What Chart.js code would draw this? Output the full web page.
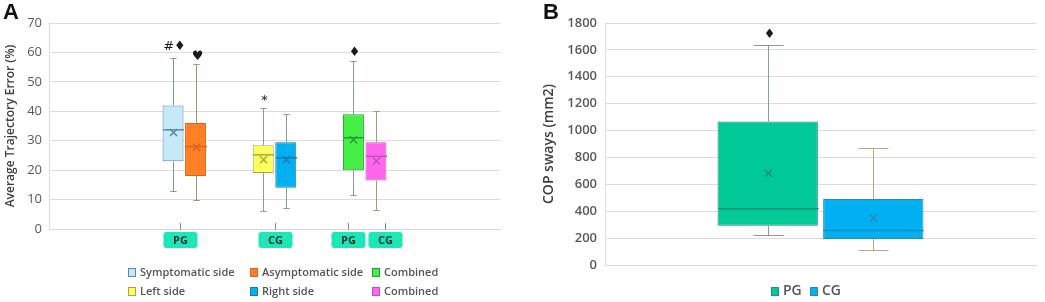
<!DOCTYPE html>
<html>
<head>
<meta charset="utf-8">
<script src="https://cdn.jsdelivr.net/npm/chart.js@4.4.0/dist/chart.umd.min.js"></script>
<style>
  body { margin: 0; width: 1045px; height: 302px; background: #fff; position: relative; overflow: hidden; font-family: "Open Sans", sans-serif; }
  .wrap { position: absolute; top: 0; height: 302px; }
  #wrapA { left: 0; width: 520px; }
  #wrapB { left: 520px; width: 525px; }
  .panel { position: absolute; font: bold 22px "Liberation Sans", Arial, sans-serif; color: #111; line-height: 22px; }
  .item { position: absolute; white-space: nowrap; color: #555; font-weight: 600; line-height: 14px; }
  .sw { display: inline-block; width: 6px; height: 7px; border: 1px solid; vertical-align: -1px; margin-right: 4px; }
</style>
</head>
<body>
<div class="wrap" id="wrapA">
  <canvas id="chartA" width="520" height="302" style="width:520px;height:302px"></canvas>
  <div class="panel" style="left:3px;top:1px">A</div>
  <div id="legendA"></div>
</div>
<div class="wrap" id="wrapB">
  <canvas id="chartB" width="525" height="302" style="width:525px;height:302px"></canvas>
  <div class="panel" style="left:23px;top:1px">B</div>
  <div id="legendB"></div>
</div>
<script>
// panel A: average trajectory error (%)
const slotsA = ['', 'G1', 'G2', 'G3', ''];
const seriesA = ['Symptomatic side', 'Asymptomatic side', 'Combined', 'Left side', 'Right side', 'Combined'];
const slotOfA = [1, 1, 3, 2, 2, 3];
const minA = [13, 10, 11.5, 6, 7, 6.5];
const q1A = [23, 18, 20, 19, 14, 16.5];
const medA = [33.7, 28, 31, 25.2, 24.2, 24.7];
const q3A = [42, 36, 39, 28.5, 29.5, 29.5];
const maxA = [58, 56, 57, 41, 39, 40];
const meanA = [32.8, 27.8, 30.3, 23.5, 23.5, 23.1];
const markA = ['#\u2666', '\u2665', '\u2666', '*', '', ''];
const markAtA = [62, 58.5, 60, 43.5, null, null];
const badgeLabels = ['PG', 'CG', 'PG', 'CG'];
const badgeAt = [0.95, 2.01, 2.81, 3.23];

// panel B: COP sways (mm2)
const slotsB = [''];
const seriesB = ['PG', 'CG'];
const minB = [220, 110];
const q1B = [292, 193];
const medB = [418, 257];
const q3B = [1067, 490];
const maxB = [1637, 870];
const meanB = [682, 350];
const markB = ['\u2666', ''];
const markAtB = [1712, null];

const fillA = ['#c6e9f9', '#ff7f27', '#46ef46', '#ffff5e', '#00b0f0', '#ff66ee'];
const lineA = ['#5a87aa', '#d8661a', '#2a9a3a', '#a6a64e', '#1a7aa8', '#c050b8'];
const whiskA = ['#7d97a8', '#b38f6e', '#8a9a9a', '#8a9aa8', '#8a98a0', '#a89a70'];
const fillB = ['#00c896', '#00b0f0'];
const lineB = ['#1f8f7f', '#2a88b8'];
const whiskB = ['#8a9aa0', '#b8a888'];

function makeSets(names, slots, slotOf, q1, q3, min, med, mean, max, mark, markAt, fill, line, whisk, cp, bp) {
  return names.map((name, k) => ({
    label: name,
    data: slots.map((_, j) => j === slotOf[k] ? [q1[k], q3[k]] : null),
    backgroundColor: fill[k],
    borderColor: line[k],
    borderWidth: 1,
    borderSkipped: false,
    skipNull: true,
    categoryPercentage: cp,
    barPercentage: bp,
    box: { min: min[k], med: med[k], mean: mean[k], max: max[k], mark: mark[k], markAt: markAt[k], whisk: whisk[k] }
  }));
}

const boxExtras = {
  id: 'boxExtras',
  afterDatasetsDraw(chart) {
    const ctx = chart.ctx;
    const y = chart.scales.y;
    chart.data.datasets.forEach((ds, i) => {
      const meta = chart.getDatasetMeta(i);
      meta.data.forEach((bar, j) => {
        if (ds.data[j] == null) return;
        const b = ds.box;
        const x = Math.round(bar.x) + 0.5, w = bar.width, cap = w * 0.3;
        const top = y.getPixelForValue(ds.data[j][1]);
        const bot = y.getPixelForValue(ds.data[j][0]);
        const yMax = Math.round(y.getPixelForValue(b.max)) + 0.5;
        const yMin = Math.round(y.getPixelForValue(b.min)) + 0.5;
        ctx.save();
        ctx.strokeStyle = b.whisk;
        ctx.lineWidth = 1;
        ctx.beginPath();
        ctx.moveTo(x, top); ctx.lineTo(x, yMax);
        ctx.moveTo(x - cap / 2, yMax); ctx.lineTo(x + cap / 2, yMax);
        ctx.moveTo(x, bot); ctx.lineTo(x, yMin);
        ctx.moveTo(x - cap / 2, yMin); ctx.lineTo(x + cap / 2, yMin);
        ctx.stroke();
        // median
        const ym = y.getPixelForValue(b.med);
        ctx.strokeStyle = ds.borderColor;
        ctx.lineWidth = 1.5;
        ctx.beginPath();
        ctx.moveTo(x - w / 2, ym); ctx.lineTo(x + w / 2, ym);
        ctx.stroke();
        // mean
        const yx = y.getPixelForValue(b.mean);
        ctx.beginPath();
        ctx.moveTo(x - 3.5, yx - 3.5); ctx.lineTo(x + 3.5, yx + 3.5);
        ctx.moveTo(x + 3.5, yx - 3.5); ctx.lineTo(x - 3.5, yx + 3.5);
        ctx.stroke();
        // significance marks
        if (b.mark) {
          ctx.fillStyle = '#1a1a1a';
          ctx.font = '13px "DejaVu Sans"';
          ctx.textAlign = 'center';
          ctx.textBaseline = 'middle';
          ctx.fillText(b.mark, x + 1, y.getPixelForValue(b.markAt));
        }
        ctx.restore();
      });
    });
  }
};

const badges = {
  id: 'badges',
  afterDraw(chart, args, opts) {
    if (!opts.labels) return;
    const ctx = chart.ctx;
    const xs = chart.scales.x;
    const base = chart.chartArea.bottom;
    opts.labels.forEach((lab, i) => {
      const cx = Math.round(xs.getPixelForValue(opts.at[i])) + 0.5;
      ctx.save();
      ctx.strokeStyle = '#8a8a8a';
      ctx.lineWidth = 1;
      ctx.beginPath();
      ctx.moveTo(cx, base - 6); ctx.lineTo(cx, base + 1);
      ctx.stroke();
      ctx.fillStyle = '#1fe6b6';
      ctx.beginPath();
      ctx.roundRect(cx - 17, base + 3, 34, 16, 3);
      ctx.fill();
      ctx.fillStyle = '#17362e';
      ctx.font = 'bold 11px "Open Sans"';
      ctx.textAlign = 'center';
      ctx.textBaseline = 'middle';
      ctx.fillText(lab, cx, base + 11.5);
      ctx.restore();
    });
  }
};

function baseOptions(pad, yMax, yStep, yWidth, title, titleSize, titlePad, tickWeight) {
  return {
    responsive: false,
    animation: false,
    layout: { padding: pad },
    plugins: { legend: { display: false }, tooltip: { enabled: false } },
    scales: {
      x: {
        grid: { display: false },
        ticks: { display: false },
        border: { color: '#d9d9d9' },
        afterFit: s => { s.height = 0; }
      },
      y: {
        min: 0,
        max: yMax,
        ticks: { stepSize: yStep, padding: 7, color: '#595959', font: { family: 'Open Sans', size: 13, weight: tickWeight }, callback: v => String(v) },
        grid: { color: '#dddddd', drawTicks: false },
        border: { color: '#dddddd' },
        title: { display: true, text: title, color: '#404040', font: { family: 'Open Sans', size: titleSize, weight: '600' }, padding: { top: titlePad, bottom: 0 } },
        afterFit: s => { s.width = yWidth; }
      }
    }
  };
}

const optsA = baseOptions({ top: 23, right: 20, bottom: 73, left: 0 }, 70, 10, 49, 'Average Trajectory Error (%)', 12, 3, '400');
optsA.plugins.badges = { labels: badgeLabels, at: badgeAt };
const chartA = new Chart(document.getElementById('chartA').getContext('2d'), {
  type: 'bar',
  data: {
    labels: slotsA,
    datasets: makeSets(seriesA, slotsA, slotOfA, q1A, q3A, minA, medA, meanA, maxA, markA, markAtA, fillA, lineA, whiskA, 0.5, 0.93)
  },
  options: optsA,
  plugins: [boxExtras, badges]
});

const optsB = baseOptions({ top: 23, right: 9, bottom: 37, left: 0 }, 1800, 200, 85, 'COP sways (mm2)', 14, 21, '600');
optsB.scales.y.ticks.padding = 8;
const chartB = new Chart(document.getElementById('chartB').getContext('2d'), {
  type: 'bar',
  data: {
    labels: slotsB,
    datasets: makeSets(seriesB, slotsB, [0, 0], q1B, q3B, minB, medB, meanB, maxB, markB, markAtB, fillB, lineB, whiskB, 0.49, 0.95)
  },
  options: optsB,
  plugins: [boxExtras]
});

// html legends built from the datasets
function htmlLegend(chart, el, cols, rows, size) {
  chart.data.datasets.forEach((ds, i) => {
    const item = document.createElement('span');
    item.className = 'item';
    item.style.left = cols[i % cols.length] + 'px';
    item.style.top = rows[Math.floor(i / cols.length)] + 'px';
    item.style.fontSize = size + 'px';
    const sw = document.createElement('span');
    sw.className = 'sw';
    sw.style.background = ds.backgroundColor;
    sw.style.borderColor = ds.borderColor;
    item.appendChild(sw);
    item.appendChild(document.createTextNode(ds.label));
    el.appendChild(item);
  });
}
htmlLegend(chartA, document.getElementById('legendA'), [128, 250, 372], [265, 284], 11);
htmlLegend(chartB, document.getElementById('legendB'), [251, 290], [283], 14);
</script>
</body>
</html>
